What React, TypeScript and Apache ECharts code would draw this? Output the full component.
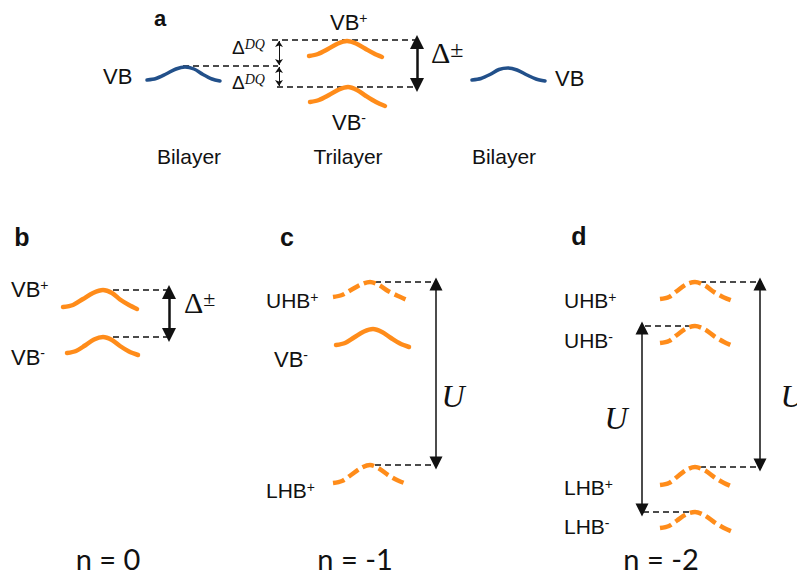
import React, { useEffect, useRef } from "react";
import * as echarts from "echarts";

// ---- band curves (x, y in page pixels; y grows downward) ----
const aVbLeft = [[147, 80], [156, 78.5], [166, 74], [176, 69], [185, 67], [194, 69], [203, 74.5], [212, 79], [220, 81]];
const aVbRight = [[472, 80], [481, 78.5], [490, 74.5], [499, 69.5], [508, 68], [517, 70], [527, 75], [536, 79], [545, 81]];
const aVbPlus = [[309, 56], [318, 54], [328, 49], [338, 43.5], [347, 41], [356, 43.5], [365, 48.5], [374, 53.5], [382, 57]];
const aVbMinus = [[310, 102], [319, 100], [329, 95], [339, 89.5], [348, 87], [357, 90], [366, 96], [376, 102], [385, 106]];
const bVbPlus = [[63, 307], [73, 305], [83, 299], [93, 293], [103, 290], [112, 293], [120, 299.5], [129, 305], [137, 309]];
const bVbMinus = [[67, 353], [76, 351], [85, 345.5], [94, 339.5], [103, 337], [112, 340], [120, 346], [129, 351.5], [138, 355]];
const cUhbPlus = [[333, 297], [342, 295], [351, 290], [361, 284.5], [370, 282], [379, 285], [388, 291], [398, 296], [407, 300]];
const cVbMinus = [[336, 345], [345, 343], [354, 337.5], [364, 331.5], [373, 329], [382, 332], [391, 338], [400, 343.5], [409, 347]];
const cLhbPlus = [[333, 483], [342, 481], [351, 475], [361, 468], [370, 465], [379, 468.5], [388, 475], [398, 480.5], [407, 484]];
const dUhbPlus = [[660, 299], [669, 297], [677, 291], [686, 284.5], [695, 282], [705, 285.5], [714, 292], [724, 297.5], [733, 301]];
const dUhbMinus = [[660, 343], [669, 341], [677, 335], [686, 328.5], [695, 326], [705, 329.5], [714, 336], [724, 342], [733, 346]];
const dLhbPlus = [[660, 485], [669, 483], [677, 477], [686, 470], [695, 467], [705, 470.5], [714, 477], [724, 483], [733, 487]];
const dLhbMinus = [[660, 528], [669, 526], [677, 520.5], [686, 514.5], [695, 512], [705, 515.5], [714, 522], [724, 528], [733, 532]];

// ---- black dashed guide lines ----
const guideLines = [
  [[183, 66], [278, 66]],
  [[272, 40], [418, 40]],
  [[277, 87], [418, 87]],
  [[113, 290], [172, 290]],
  [[113, 337], [172, 337]],
  [[375, 282], [436, 282]],
  [[375, 465], [436, 465]],
  [[700, 282], [762, 282]],
  [[645, 326], [705, 326]],
  [[700, 467], [762, 467]],
  [[643, 512], [702, 512]],
];

// ---- arrows ----
const smallArrows = [
  [[279, 41], [279, 65]],
  [[279, 67], [279, 86]],
];
const gapArrows = [
  [[417, 42], [417, 85]],
  [[169, 292], [169, 335]],
];
const uArrows = [
  [[436, 284], [436, 463]],
  [[760, 284], [760, 465]],
  [[642, 328], [642, 510]],
];

const BLUE = "#22508a";
const ORANGE = "#ff8c1a";
const INK = "#111111";
const FONT = "'Liberation Sans', Arial, sans-serif";
const MATH = "'Liberation Serif', 'DejaVu Serif', serif";
const NFONT = "Lato, 'Open Sans', sans-serif";

const solidBands = [
  { d: aVbLeft, c: BLUE, w: 3.5 },
  { d: aVbRight, c: BLUE, w: 3.5 },
  { d: aVbPlus, c: ORANGE, w: 4.5 },
  { d: aVbMinus, c: ORANGE, w: 4.5 },
  { d: bVbPlus, c: ORANGE, w: 4.5 },
  { d: bVbMinus, c: ORANGE, w: 4.5 },
  { d: cVbMinus, c: ORANGE, w: 4.5 },
];
const dashedBands = [cUhbPlus, cLhbPlus, dUhbPlus, dUhbMinus, dLhbPlus, dLhbMinus];

function label(x: number, y: number, main: string, sup: string, size = 21) {
  return {
    type: "text",
    x,
    y,
    style: {
      text: sup ? `{m|${main}}{s|${sup}}` : `{m|${main}}`,
      align: "left",
      verticalAlign: "middle",
      rich: {
        m: { fontSize: size, fontFamily: FONT, fill: INK },
        s: { fontSize: 14, fontFamily: FONT, fill: INK, verticalAlign: "top" },
      },
    },
  };
}

function plain(x: number, y: number, text: string, size: number, font: string, extra: any = {}) {
  return {
    type: "text",
    x,
    y,
    style: { text, fontSize: size, fontFamily: font, fill: INK, align: "center", verticalAlign: "middle", ...extra },
  };
}

function delta(x: number, y: number, sup: string, size: number, supSize: number, italicSup: boolean, dFont = MATH) {
  return {
    type: "text",
    x,
    y,
    style: {
      text: `{d|Δ}{s|${sup}}`,
      align: "left",
      verticalAlign: "middle",
      rich: {
        d: { fontSize: size, fontFamily: dFont, fill: INK },
        s: {
          fontSize: supSize,
          fontFamily: MATH,
          fontStyle: italicSup ? "italic" : "normal",
          fill: INK,
          verticalAlign: "top",
        },
      },
    },
  };
}

export default function App() {
  const ref = useRef<HTMLDivElement>(null);
  useEffect(() => {
    if (!ref.current) return;
    const chart = echarts.init(ref.current, undefined, { renderer: "svg" });
    const series: any[] = [];
    solidBands.forEach((b) =>
      series.push({
        type: "line",
        data: b.d,
        smooth: 0.3,
        showSymbol: false,
        silent: true,
        z: 3,
        lineStyle: { color: b.c, width: b.w, cap: "round" },
      })
    );
    dashedBands.forEach((d) =>
      series.push({
        type: "line",
        data: d,
        smooth: 0.3,
        showSymbol: false,
        silent: true,
        z: 3,
        lineStyle: { color: ORANGE, width: 4.5, type: [12, 5] },
      })
    );
    guideLines.forEach((g) =>
      series.push({
        type: "line",
        data: g,
        showSymbol: false,
        silent: true,
        z: 2,
        lineStyle: { color: INK, width: 1.5, type: [6, 4] },
      })
    );
    series.push({
      type: "lines",
      coordinateSystem: "cartesian2d",
      data: smallArrows.map((c) => ({ coords: c })),
      symbol: ["arrow", "arrow"],
      symbolSize: 6,
      silent: true,
      lineStyle: { color: INK, width: 1, opacity: 1 },
    });
    series.push({
      type: "lines",
      coordinateSystem: "cartesian2d",
      data: gapArrows.map((c) => ({ coords: c })),
      symbol: ["triangle", "triangle"],
      symbolSize: 14,
      silent: true,
      lineStyle: { color: INK, width: 2.5, opacity: 1 },
    });
    series.push({
      type: "lines",
      coordinateSystem: "cartesian2d",
      data: uArrows.map((c) => ({ coords: c })),
      symbol: ["triangle", "triangle"],
      symbolSize: 13,
      silent: true,
      lineStyle: { color: INK, width: 1.5, opacity: 1 },
    });

    const graphics: any[] = [
      // panel a
      plain(160, 18, "a", 22, FONT, { fontWeight: "bold" }),
      label(103, 76, "VB", "", 22),
      delta(232, 47, "DQ", 19, 14, true, FONT),
      delta(232, 82, "DQ", 19, 14, true, FONT),
      label(330, 22, "VB", "+", 22),
      label(332, 122, "VB", "-", 22),
      delta(431, 52, "±", 30, 24, false),
      label(555, 78, "VB", "", 22),
      plain(189, 156, "Bilayer", 21, FONT),
      plain(348, 156, "Trilayer", 21, FONT),
      plain(504, 156, "Bilayer", 21, FONT),
      // panel b
      plain(22, 237, "b", 25, FONT, { fontWeight: "bold" }),
      label(11, 289, "VB", "+", 22),
      label(11, 357, "VB", "-", 22),
      delta(184, 302, "±", 30, 22, false),
      plain(108, 558, "n = 0", 29, NFONT),
      // panel c
      plain(287, 237, "c", 25, FONT, { fontWeight: "bold" }),
      label(266, 300, "UHB", "+", 21),
      label(274, 359, "VB", "-", 22),
      label(266, 490, "LHB", "+", 21),
      plain(453, 396, "U", 32, MATH, { fontStyle: "italic" }),
      plain(355, 558, "n = -1", 29, NFONT),
      // panel d
      plain(579, 236, "d", 25, FONT, { fontWeight: "bold" }),
      label(564, 300, "UHB", "+", 21),
      label(564, 340, "UHB", "-", 21),
      label(564, 487, "LHB", "+", 21),
      label(564, 526, "LHB", "-", 21),
      plain(616, 418, "U", 32, MATH, { fontStyle: "italic" }),
      plain(792, 396, "U", 32, MATH, { fontStyle: "italic" }),
      plain(661, 558, "n = -2", 29, NFONT),
    ];

    chart.setOption({
      animation: false,
      backgroundColor: "#ffffff",
      grid: { left: 0, right: 0, top: 0, bottom: 0 },
      xAxis: { type: "value", min: 0, max: 797, show: false },
      yAxis: { type: "value", min: 0, max: 578, inverse: true, show: false },
      series,
      graphic: graphics,
    });
    return () => chart.dispose();
  }, []);
  return <div ref={ref} style={{ position: "absolute", left: 0, top: 0, width: 797, height: 578 }} />;
}
